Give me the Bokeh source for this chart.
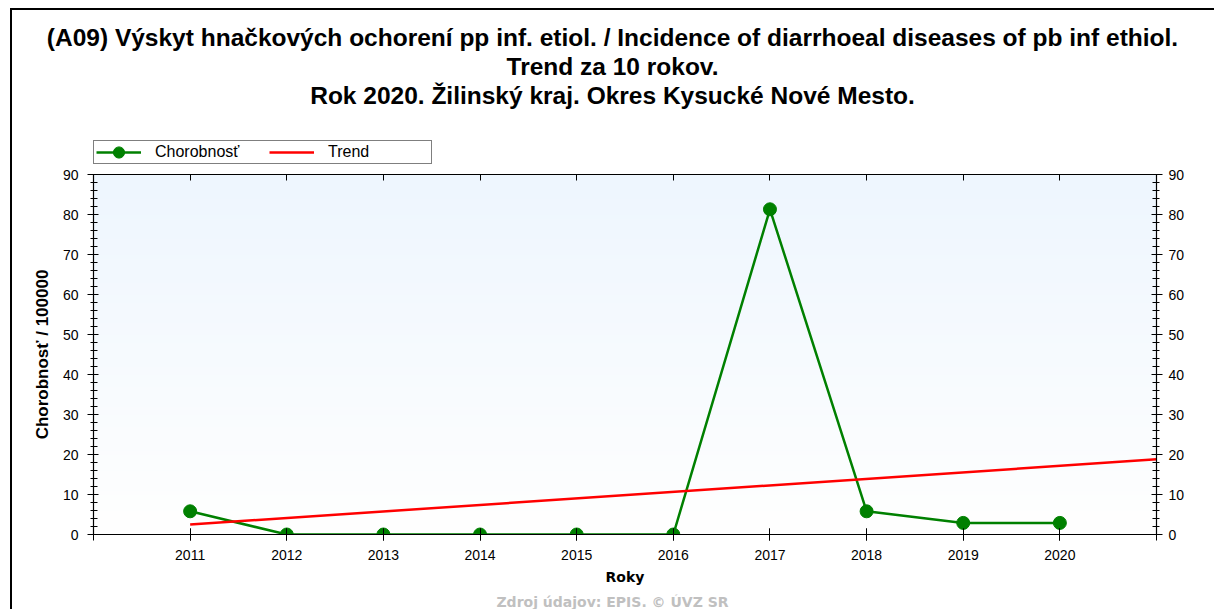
import numpy as np
from bokeh.plotting import figure
from bokeh.layouts import column
from bokeh.models import (LinearAxis, Range1d, FixedTicker, Title, Legend,
                          LegendItem, ColumnDataSource, Label)
from bokeh.embed import file_html
from bokeh.resources import INLINE

# ---- data ----
years = [2011, 2012, 2013, 2014, 2015, 2016, 2017, 2018, 2019, 2020]
rate = [5.8, 0.0, 0.0, 0.0, 0.0, 0.0, 81.3, 5.8, 2.9, 2.9]
trend_years = [2011, 2021]
trend_vals = [2.5, 18.8]
x_ticks = [2011, 2012, 2013, 2014, 2015, 2016, 2017, 2018, 2019, 2020]
x_all_ticks = [2010, 2011, 2012, 2013, 2014, 2015, 2016, 2017, 2018, 2019, 2020, 2021]
y_ticks = [0, 10, 20, 30, 40, 50, 60, 70, 80, 90]
y_minor = [0, 2, 4, 6, 8, 10, 12, 14, 16, 18, 20, 22, 24, 26, 28, 30, 32, 34, 36, 38,
           40, 42, 44, 46, 48, 50, 52, 54, 56, 58, 60, 62, 64, 66, 68, 70, 72, 74, 76,
           78, 80, 82, 84, 86, 88, 90]
title_lines = [
    "(A09) Výskyt hnačkových ochorení pp inf. etiol. / Incidence of diarrhoeal diseases of pb inf ethiol.",
    "Trend za 10 rokov.",
    "Rok 2020. Žilinský kraj. Okres Kysucké Nové Mesto.",
]
x_label = "Roky"
y_label = "Chorobnosť / 100000"
source_note = "Zdroj údajov: EPIS. © ÚVZ SR"
series_names = ["Chorobnosť", "Trend"]

FONT = "Liberation Sans"
BFONT = "DejaVu Sans"
X0, X1 = 2010, 2021
Y0, Y1 = 0, 90
GREEN = "#008000"
RED = "#ff0000"

# ---------------- header figure: titles + legend ----------------
head = figure(width=1202, height=154, output_backend="svg", toolbar_location=None,
              x_range=Range1d(0, 1), y_range=Range1d(0, 1),
              x_axis_location=None, y_axis_location=None,
              frame_width=1038, frame_height=56,
              min_border_left=81, min_border_right=83, min_border_top=98,
              min_border_bottom=0)
head.outline_line_color = None
head.grid.visible = False
head.background_fill_color = "white"
head.border_fill_color = "white"

# legend proxies (placed outside the visible range of the header frame)
h_line = head.line(x=[-5, -4], y=[-5, -4], line_color=GREEN, line_width=2.5)
h_pts = head.ellipse(x=[-5], y=[-5], width=12, height=12,
                     width_units="screen", height_units="screen",
                     fill_color=GREEN, line_color=GREEN)
h_trend = head.line(x=[-5, -4], y=[-5, -4], line_color=RED, line_width=2.5)

legend = Legend(items=[LegendItem(label=series_names[0], renderers=[h_line, h_pts]),
                       LegendItem(label=series_names[1], renderers=[h_trend])],
                orientation="horizontal", location=(0, 0))
legend.label_text_font = FONT
legend.label_text_font_size = "16px"
legend.label_text_color = "black"
legend.border_line_color = "black"
legend.border_line_width = 1
legend.background_fill_color = "white"
legend.background_fill_alpha = 1
legend.glyph_width = 45
legend.glyph_height = 14
legend.label_standoff = 14
legend.label_width = 101
legend.spacing = 13
legend.padding = 2
legend.margin = 0
legend.label_height = 14
head.add_layout(legend, "center")

for line in reversed(title_lines):
    t = Title(text=line, align="center", text_font=FONT, text_font_size="24.5px",
              text_font_style="bold", text_color="black", standoff=0)
    head.add_layout(t, "above")

# ---------------- main figure ----------------
p = figure(width=1202, height=430, output_backend="svg", toolbar_location=None,
           x_range=Range1d(X0, X1), y_range=Range1d(Y0, Y1),
           frame_width=1063, frame_height=360,
           min_border_left=81, min_border_right=58, min_border_top=10,
           min_border_bottom=60)
p.background_fill_color = "white"
p.border_fill_color = "white"
p.outline_line_color = None
p.grid.visible = False

# background gradient (light blue at top to white at bottom)
ny = 90
top = np.array([238, 246, 254])
bot = np.array([255, 255, 255])
img = np.zeros((ny, 1), dtype=np.uint32)
view = img.view(dtype=np.uint8).reshape((ny, 1, 4))
for i in range(ny):
    t = i / (ny - 1)
    c = bot + (top - bot) * t
    view[i, 0, 0] = int(c[0]); view[i, 0, 1] = int(c[1]); view[i, 0, 2] = int(c[2]); view[i, 0, 3] = 255
p.image_rgba(image=[img], x=X0, y=Y0, dw=X1 - X0, dh=Y1 - Y0)

def style_axis(ax):
    ax.axis_line_color = "black"
    ax.axis_line_width = 1.2
    ax.major_tick_line_color = "black"
    ax.minor_tick_line_color = "black"
    ax.major_label_text_font = FONT
    ax.major_label_text_font_size = "14px"
    ax.major_label_text_color = "black"
    ax.axis_label_text_font = BFONT
    ax.axis_label_text_font_style = "bold"
    ax.axis_label_text_font_size = "14px"
    ax.axis_label_text_color = "black"

# bottom axis: labelled years as major ticks, plot edges as (equal-length) minor ticks
xb = p.xaxis[0]
xb.ticker = FixedTicker(ticks=x_ticks, minor_ticks=x_all_ticks)
style_axis(xb)
xb.major_tick_in = 6
xb.major_tick_out = 6
xb.minor_tick_in = 6
xb.minor_tick_out = 6
xb.axis_label = x_label
xb.axis_label_standoff = 6
xb.major_label_standoff = 9

# top axis: unlabelled inward ticks only
xt = LinearAxis(ticker=FixedTicker(ticks=[], minor_ticks=x_all_ticks))
style_axis(xt)
xt.major_tick_in = 0
xt.major_tick_out = 0
xt.minor_tick_in = 6
xt.minor_tick_out = 0
xt.major_label_standoff = 0
p.add_layout(xt, "above")

yl = p.yaxis[0]
yl.ticker = FixedTicker(ticks=y_ticks, minor_ticks=y_minor)
style_axis(yl)
yl.major_tick_in = 5
yl.major_tick_out = 6
yl.minor_tick_in = 4
yl.minor_tick_out = 3
yl.major_label_standoff = 9
yl.axis_label = y_label
yl.axis_label_text_font = FONT
yl.axis_label_text_font_size = "17px"
yl.axis_label_standoff = 8

yr = LinearAxis(ticker=FixedTicker(ticks=y_ticks, minor_ticks=y_minor))
style_axis(yr)
yr.major_tick_in = 5
yr.major_tick_out = 6
yr.minor_tick_in = 4
yr.minor_tick_out = 3
yr.major_label_standoff = 6
p.add_layout(yr, "right")

src = ColumnDataSource(dict(x=years, y=rate))
tsrc = ColumnDataSource(dict(x=trend_years, y=trend_vals))
p.line("x", "y", source=src, line_color=GREEN, line_width=2.5)
p.scatter("x", "y", source=src, size=13, marker="circle",
          fill_color=GREEN, line_color=GREEN)
p.line("x", "y", source=tsrc, line_color=RED, line_width=2.5)

# ---------------- footer figure: source note centred on the page ----------------
foot = figure(width=1202, height=15, output_backend="svg", toolbar_location=None,
              x_range=Range1d(0, 1), y_range=Range1d(0, 1),
              x_axis_location=None, y_axis_location=None,
              min_border=0)
foot.outline_line_color = None
foot.grid.visible = False
foot.background_fill_color = "white"
foot.border_fill_color = "white"
foot.add_layout(Label(x=0.5, y=0.5, text=source_note, text_align="center",
                      text_baseline="middle", text_font=BFONT,
                      text_font_size="14px", text_font_style="bold",
                      text_color="#c0c0c0"))

layout = column(head, p, foot, spacing=0)
layout.styles = {"border-top": "2px solid black", "border-left": "2px solid black",
                 "margin-left": "10px", "margin-top": "8px"}

open("out.html", "w").write(file_html(layout, INLINE))
